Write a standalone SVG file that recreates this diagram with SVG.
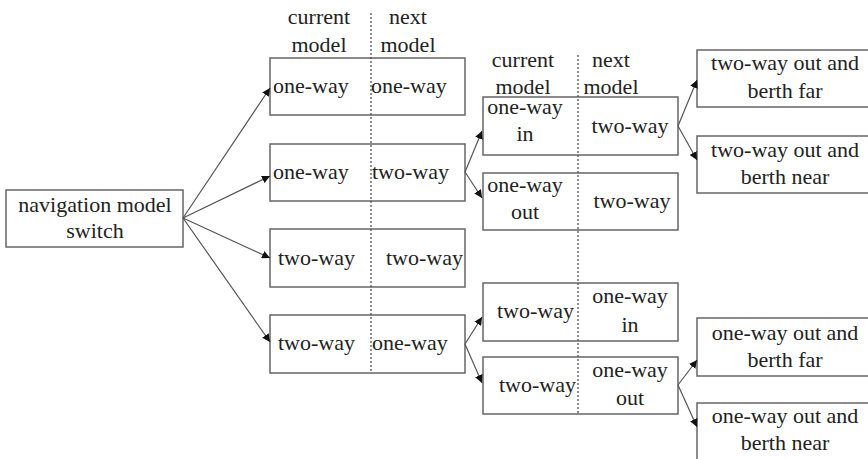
<svg xmlns="http://www.w3.org/2000/svg" width="868" height="459" viewBox="0 0 868 459">
  <style>
    .box { fill: #fff; stroke: #666; stroke-width: 1.5; }
    .t { font-family: "Liberation Serif", "Times New Roman", serif; font-size: 22px; fill: #222; }
    .c { text-anchor: middle; }
    .sep { stroke: #444; stroke-width: 1.2; stroke-dasharray: 2 2; fill: none; }
    .edge { stroke: #555; stroke-width: 1.2; fill: none; marker-end: url(#arrow); }
  </style>
  <defs>
    <marker id="arrow" viewBox="0 0 10 10" refX="10" refY="5" markerWidth="8" markerHeight="8" markerUnits="userSpaceOnUse" orient="auto">
      <path d="M0,0 L10,5 L0,10 z" fill="#111"/>
    </marker>
  </defs>

  <rect width="868" height="459" fill="#fff"/>

  <!-- root -->
  <g id="nav-switch">
    <rect class="box" x="6" y="190" width="177" height="57"/>
    <text class="t c" x="95" y="212">navigation model</text>
    <text class="t c" x="95" y="238">switch</text>
  </g>

  <!-- first stage: current / next model -->
  <g id="stage1-header">
    <text class="t c" x="319" y="24">current</text>
    <text class="t c" x="319" y="52">model</text>
    <text class="t c" x="408" y="24">next</text>
    <text class="t c" x="408" y="52">model</text>
  </g>
  <g id="s1-one-one">
    <rect class="box" x="270" y="58" width="195" height="57"/>
    <text class="t" x="273" y="93">one-way</text>
    <text class="t" x="371" y="93">one-way</text>
  </g>
  <g id="s1-one-two">
    <rect class="box" x="270" y="144" width="195" height="57"/>
    <text class="t" x="273" y="179">one-way</text>
    <text class="t" x="372" y="179">two-way</text>
  </g>
  <g id="s1-two-two">
    <rect class="box" x="270" y="229" width="195" height="58"/>
    <text class="t" x="278" y="265">two-way</text>
    <text class="t" x="386" y="265">two-way</text>
  </g>
  <g id="s1-two-one">
    <rect class="box" x="270" y="315" width="195" height="58"/>
    <text class="t" x="278" y="350">two-way</text>
    <text class="t" x="372" y="350">one-way</text>
  </g>
  <line class="sep" x1="371" y1="13" x2="371" y2="373"/>

  <!-- second stage -->
  <g id="stage2-header">
    <text class="t c" x="523" y="67">current</text>
    <text class="t c" x="523" y="94">model</text>
    <text class="t c" x="611" y="67">next</text>
    <text class="t c" x="611" y="94">model</text>
  </g>
  <g id="s2-onein-two">
    <rect class="box" x="483" y="97" width="195" height="58"/>
    <text class="t c" x="525" y="114">one-way</text>
    <text class="t c" x="525" y="141">in</text>
    <text class="t c" x="630" y="133">two-way</text>
  </g>
  <g id="s2-oneout-two">
    <rect class="box" x="483" y="173" width="195" height="57"/>
    <text class="t c" x="525" y="192">one-way</text>
    <text class="t c" x="525" y="219">out</text>
    <text class="t c" x="632" y="208">two-way</text>
  </g>
  <g id="s2-two-onein">
    <rect class="box" x="483" y="283" width="195" height="58"/>
    <text class="t" x="497" y="318">two-way</text>
    <text class="t c" x="630" y="303">one-way</text>
    <text class="t c" x="630" y="332">in</text>
  </g>
  <g id="s2-two-oneout">
    <rect class="box" x="483" y="357" width="195" height="57"/>
    <text class="t" x="499" y="392">two-way</text>
    <text class="t c" x="630" y="377">one-way</text>
    <text class="t c" x="630" y="405">out</text>
  </g>
  <line class="sep" x1="578" y1="55" x2="578" y2="414"/>

  <!-- berth outcomes -->
  <g id="two-out-far">
    <rect class="box" x="697" y="50" width="172" height="57"/>
    <text class="t c" x="785" y="70">two-way out and</text>
    <text class="t c" x="785" y="98">berth far</text>
  </g>
  <g id="two-out-near">
    <rect class="box" x="697" y="136" width="172" height="57"/>
    <text class="t c" x="785" y="157">two-way out and</text>
    <text class="t c" x="785" y="184">berth near</text>
  </g>
  <g id="one-out-far">
    <rect class="box" x="697" y="318" width="172" height="58"/>
    <text class="t c" x="785" y="340">one-way out and</text>
    <text class="t c" x="785" y="367">berth far</text>
  </g>
  <g id="one-out-near">
    <rect class="box" x="697" y="403" width="172" height="70"/>
    <text class="t c" x="785" y="423">one-way out and</text>
    <text class="t c" x="785" y="450">berth near</text>
  </g>

  <!-- connectors -->
  <g id="connectors">
    <line class="edge" x1="183" y1="218" x2="270" y2="88"/>
    <line class="edge" x1="183" y1="218" x2="270" y2="176"/>
    <line class="edge" x1="183" y1="218" x2="270" y2="258"/>
    <line class="edge" x1="183" y1="218" x2="270" y2="342"/>
    <line class="edge" x1="465" y1="172" x2="482" y2="131"/>
    <line class="edge" x1="465" y1="172" x2="482" y2="198"/>
    <line class="edge" x1="465" y1="344" x2="482" y2="317"/>
    <line class="edge" x1="465" y1="344" x2="482" y2="383"/>
    <line class="edge" x1="678" y1="126" x2="697" y2="80"/>
    <line class="edge" x1="678" y1="126" x2="697" y2="160"/>
    <line class="edge" x1="678" y1="385" x2="697" y2="360"/>
    <line class="edge" x1="678" y1="385" x2="697" y2="427"/>
  </g>
</svg>
